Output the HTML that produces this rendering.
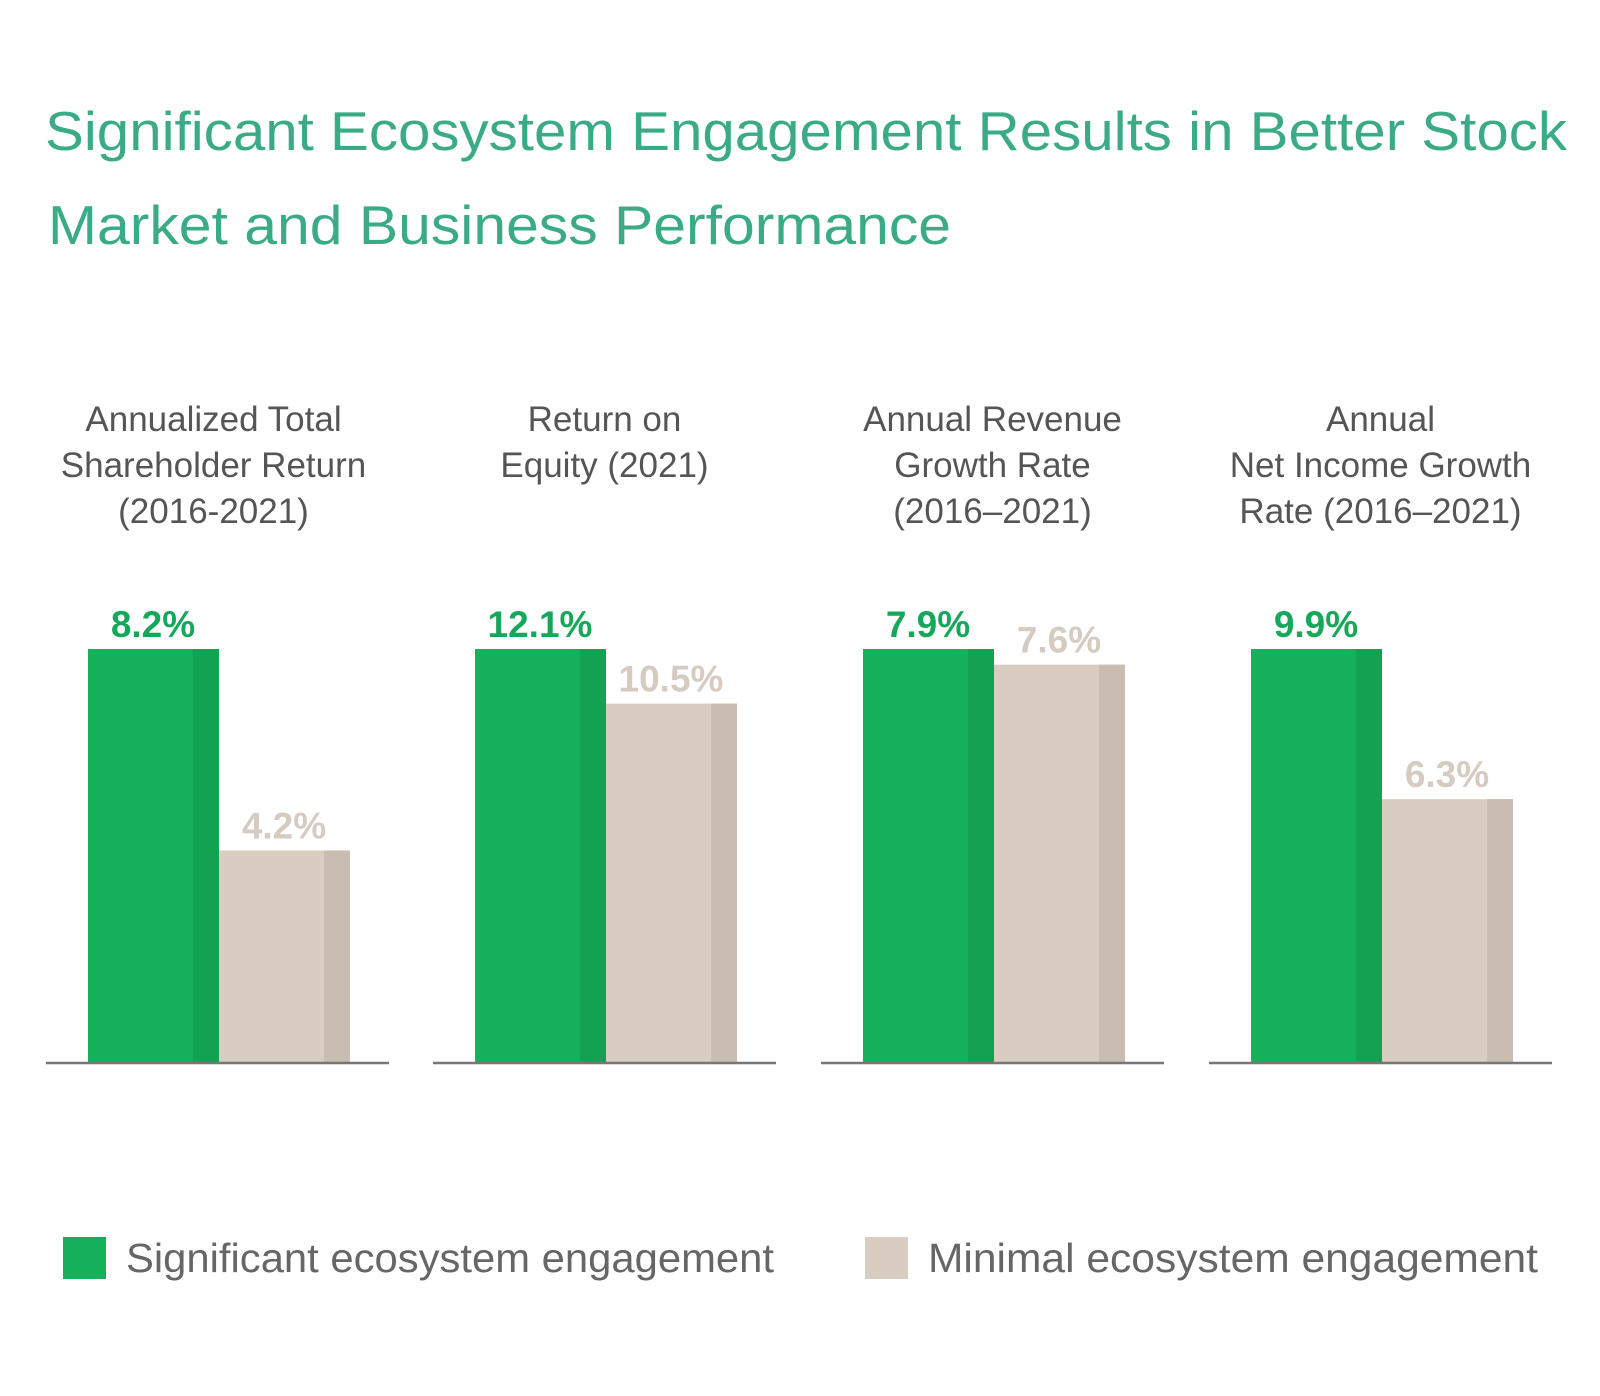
<!DOCTYPE html>
<html><head><meta charset="utf-8"><style>
html,body{margin:0;padding:0;background:#fff;}
svg{display:block;font-family:"Liberation Sans",sans-serif;}
</style></head><body>
<svg id="chart" width="1600" height="1396" viewBox="0 0 1600 1396" xmlns="http://www.w3.org/2000/svg">
<g fill="#3aab86" font-size="55">
<text x="45" y="150" textLength="1522" lengthAdjust="spacingAndGlyphs">Significant Ecosystem Engagement Results in Better Stock</text>
<text x="48" y="244" textLength="903" lengthAdjust="spacingAndGlyphs">Market and Business Performance</text>
</g>
<g id="panels"></g>
<g>
<rect x="63" y="1237" width="43" height="42" fill="#14b05a"/>
<text x="126" y="1272" font-size="41" fill="#666" textLength="648" lengthAdjust="spacingAndGlyphs">Significant ecosystem engagement</text>
<rect x="865" y="1237" width="43" height="42" fill="#d9ccc1"/>
<text x="928" y="1272" font-size="41" fill="#666" textLength="610" lengthAdjust="spacingAndGlyphs">Minimal ecosystem engagement</text>
</g>
</svg>
<script>
const categories = [
  ["Annualized Total","Shareholder Return","(2016-2021)"],
  ["Return on","Equity (2021)"],
  ["Annual Revenue","Growth Rate","(2016\u20132021)"],
  ["Annual","Net Income Growth","Rate (2016\u20132021)"]
];
const significant = [8.2, 12.1, 7.9, 9.9];
const minimal = [4.2, 10.5, 7.6, 6.3];

const NS = "http://www.w3.org/2000/svg";
const g = document.getElementById("panels");
const panelX = [46, 433, 821, 1209];
const labelShift = [-4, 0, 0, 0];
const panelW = 343;
const baseY = 1062, fullH = 413, barW = 131;
function mk(tag, attrs){ const e=document.createElementNS(NS,tag); for(const k in attrs) e.setAttribute(k,attrs[k]); return e; }
function yScale(v, max){ return baseY - v / max * fullH; }
categories.forEach((cat, i) => {
  const px = panelX[i];
  const cx = px + panelW/2 + labelShift[i];
  const max = Math.max(significant[i], minimal[i]);
  cat.forEach((line, j) => {
    const t = mk("text", {x: cx, y: 431 + j*46, "text-anchor":"middle", "font-size":"35", fill:"#555"});
    
    
    t.textContent = line; g.appendChild(t);
  });
  const gx = px + 42;
  const series = [[significant[i], "#14b05a", "#12a252", "#16a85a", "bar-significant"], [minimal[i], "#d9ccc1", "#c9bcb0", "#d6cbc1", "bar-minimal"]];
  series.forEach((s, k) => {
    const x = gx + k*barW;
    const y = yScale(s[0], max);
    const r = mk("rect", {x: x, y: y, width: barW, height: baseY - y, fill: s[1]});
    
    
    g.appendChild(r);
    const sh = mk("rect", {x: x + barW - 26, y: y, width: 26, height: baseY - y, fill: s[2]});
    
    
    g.appendChild(sh);
    const t = mk("text", {x: x + 65, y: y - 12, "text-anchor":"middle", "font-size":"37", "font-weight":"bold", fill: s[3]});
    
    
    t.textContent = s[0].toFixed(1) + "%"; g.appendChild(t);
  });
  const l = mk("line", {x1: px, x2: px + panelW, y1: baseY + 1, y2: baseY + 1, stroke: "#777", "stroke-width": 2.5});
  
  
  g.appendChild(l);
});
</script>
</body></html>
